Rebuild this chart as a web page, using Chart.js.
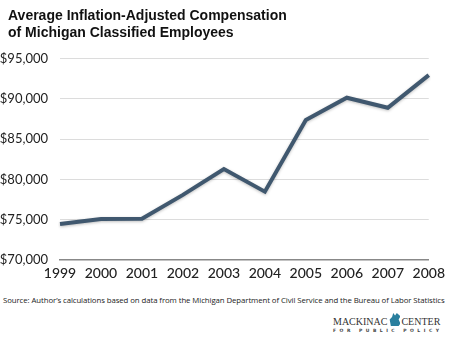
<!DOCTYPE html>
<html>
<head>
<meta charset="utf-8">
<script src="https://cdn.jsdelivr.net/npm/chart.js@4"></script>
<style>
    html, body { margin: 0; padding: 0; background: #fff; }
    #wrap { position: relative; width: 450px; height: 340px; overflow: hidden; }
    #chartBox { position: absolute; left: 0; top: 0; width: 450px; height: 287px; }
    #source { position: absolute; left: 3px; top: 295px; font: 7.8px "Open Sans", sans-serif; color: #222; white-space: nowrap; letter-spacing: -0.08px; }
    #logo { position: absolute; left: 333px; top: 313px; width: 115px; color: #333; }
    #logo .name { font: 10px "Liberation Serif", serif; white-space: nowrap; line-height: 11px; }
    #logo .map { display: inline-block; width: 12px; height: 13px; background: #2a7f9e; vertical-align: -1px; margin: 0 1px; clip-path: polygon(20% 100%, 10% 50%, 30% 30%, 40% 0%, 55% 20%, 70% 0%, 100% 25%, 85% 50%, 100% 80%, 85% 100%); }
    #logo .sub { font: bold 4.5px "DejaVu Sans", sans-serif; letter-spacing: 3.5px; margin-top: 1px; white-space: nowrap; color: #444; }
</style>
</head>
<body>
<div id="wrap">
    <div id="chartBox"><canvas id="compChart"></canvas></div>
    <div id="source">Source: Author’s calculations based on data from the Michigan Department of Civil Service and the Bureau of Labor Statistics</div>
    <div id="logo">
        <div class="name">MACKINAC<span class="map"></span>CENTER</div>
        <div class="sub">FOR PUBLIC POLICY</div>
    </div>
</div>
<script>
// Data
const years = ['1999', '2000', '2001', '2002', '2003', '2004', '2005', '2006', '2007', '2008'];
const compensation = [74500, 75100, 75150, 78100, 81300, 78500, 87400, 90150, 88900, 92950];
const yTicks = [70000, 75000, 80000, 85000, 90000, 95000];

const titleLines = ['Average Inflation-Adjusted Compensation', 'of Michigan Classified Employees'];

// Soft shadow under the line, like the original
const lineShadow = {
    id: 'lineShadow',
    beforeDatasetDraw(chart) {
        const ctx = chart.ctx;
        ctx.save();
        ctx.shadowColor = 'rgba(0, 0, 0, 0.25)';
        ctx.shadowBlur = 3;
        ctx.shadowOffsetY = 1;
    },
    afterDatasetDraw(chart) {
        chart.ctx.restore();
    }
};

// Title sits a little further in than the axis labels
const titleIndent = {
    id: 'titleIndent',
    afterLayout(chart) {
        if (chart.titleBlock) chart.titleBlock.left = 8;
    }
};

const ctx = document.getElementById('compChart').getContext('2d');
new Chart(ctx, {
    type: 'line',
    data: {
        labels: years,
        datasets: [{
            data: compensation,
            borderColor: '#40586f',
            borderWidth: 4,
            pointRadius: 0,
            tension: 0,
            borderJoinStyle: 'miter',
            fill: false
        }]
    },
    plugins: [lineShadow, titleIndent],
    options: {
        responsive: true,
        maintainAspectRatio: false,
        animation: false,
        layout: {
            padding: { left: 0, right: 18, top: 6, bottom: 0 }
        },
        plugins: {
            legend: { display: false },
            tooltip: { enabled: false },
            title: {
                display: true,
                text: titleLines,
                align: 'start',
                color: '#111',
                font: { family: 'Liberation Sans', size: 14, weight: 'bold', lineHeight: 1.2 },
                padding: { top: 2, bottom: 17 }
            }
        },
        scales: {
            x: {
                offset: false,
                grid: { display: false, drawTicks: false },
                border: { display: true, color: '#888', width: 1.5 },
                ticks: {
                    color: '#222',
                    padding: 5,
                    maxRotation: 0,
                    font: { family: 'Lato', size: 14, weight: '500' }
                }
            },
            y: {
                min: yTicks[0],
                max: yTicks[yTicks.length - 1],
                afterBuildTicks: (axis) => {
                    axis.ticks = yTicks.map(v => ({ value: v }));
                },
                afterFit: (axis) => {
                    axis.width = 60;
                },
                grid: {
                    color: (c) => c.tick && c.tick.value === yTicks[0] ? 'rgba(0,0,0,0)' : '#dcdcdc',
                    lineWidth: 1,
                    drawTicks: false
                },
                border: { display: false },
                ticks: {
                    color: '#222',
                    padding: 12,
                    font: { family: 'Lato', size: 13 },
                    callback: (v) => '$' + v.toLocaleString('en-US')
                }
            }
        }
    }
});
</script>
</body>
</html>
